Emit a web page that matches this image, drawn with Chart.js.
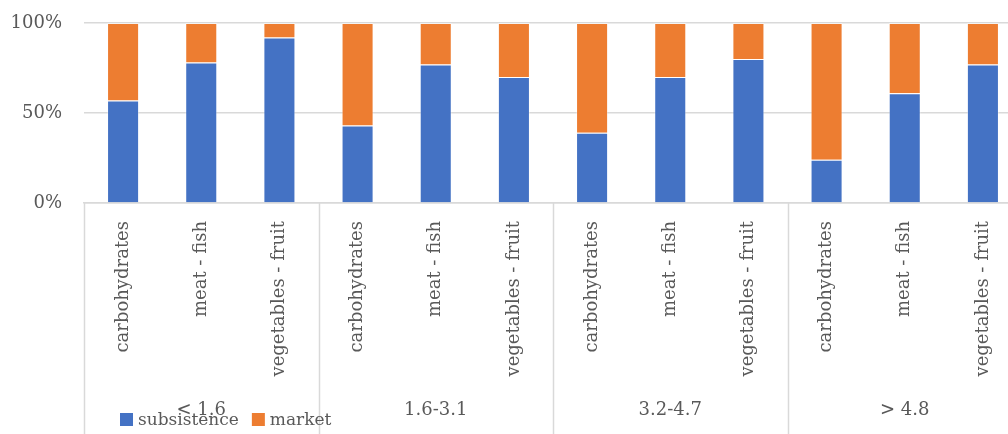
<!DOCTYPE html>
<html>
<head>
<meta charset="utf-8">
<script src="https://cdn.jsdelivr.net/npm/chart.js@4"></script>
<style>
  html, body { margin: 0; padding: 0; background: #fff; overflow: hidden; }
  #wrap { width: 1008px; height: 434px; overflow: hidden; position: relative; }
  #box { width: 1030px; height: 434px; position: absolute; left: 0; top: 0; }
</style>
</head>
<body>
<div id="wrap"><div id="box"><canvas id="c"></canvas></div></div>
<script>
const groups = ['< 1.6', '1.6-3.1', '3.2-4.7', '> 4.8'];
const foods = ['carbohydrates', 'meat - fish', 'vegetables - fruit'];
const subsistence = [57, 78, 92, 43, 77, 70, 39, 70, 80, 24, 61, 77];
const market = [43, 22, 8, 57, 23, 30, 61, 30, 20, 76, 39, 23];
const yTicks = [0, 50, 100];
const seriesNames = ['subsistence', 'market'];
const seriesColors = ['#4472C4', '#ED7D31'];

const categories = [];
groups.forEach(() => foods.forEach(f => categories.push(f)));

const FONT = '"DejaVu Serif", "Liberation Serif", serif';
const TEXT = '#595959';
const GRID = '#d9d9d9';

const extras = {
  id: 'extras',
  afterDraw(chart) {
    const ctx = chart.ctx;
    const x = chart.scales.x;
    const area = chart.chartArea;
    const H = chart.height;
    const step = x.getPixelForValue(1) - x.getPixelForValue(0);
    ctx.save();
    // group separators
    ctx.strokeStyle = GRID;
    ctx.lineWidth = 1.5;
    for (let g = 0; g <= groups.length; g++) {
      const idx = g * foods.length;
      const px = x.getPixelForValue(0) + (idx - 0.5) * step;
      ctx.beginPath();
      ctx.moveTo(Math.round(px) + 0.5, area.bottom);
      ctx.lineTo(Math.round(px) + 0.5, H);
      ctx.stroke();
    }
    // group labels
    ctx.fillStyle = TEXT;
    ctx.font = '18px ' + FONT;
    ctx.textAlign = 'center';
    ctx.textBaseline = 'middle';
    groups.forEach((g, i) => {
      const a = x.getPixelForValue(i * foods.length);
      const b = x.getPixelForValue(i * foods.length + foods.length - 1);
      ctx.fillText(g, (a + b) / 2, 410);
    });
    // legend
    let lx = 120;
    const ly = 420;
    ctx.textAlign = 'left';
    ctx.font = '17px ' + FONT;
    seriesNames.forEach((n, i) => {
      ctx.fillStyle = seriesColors[i];
      ctx.fillRect(lx, ly - 7, 13, 13);
      ctx.fillStyle = TEXT;
      ctx.fillText(n, lx + 18, ly + 1);
      lx += 18 + ctx.measureText(n).width + 13;
    });
    ctx.restore();
  }
};

new Chart(document.getElementById('c'), {
  type: 'bar',
  data: {
    labels: categories,
    datasets: [
      { label: seriesNames[0], data: subsistence, backgroundColor: seriesColors[0], borderColor: 'rgba(255,255,255,0.35)', borderWidth: 1, barPercentage: 0.41, categoryPercentage: 1 },
      { label: seriesNames[1], data: market, backgroundColor: seriesColors[1], borderColor: 'rgba(255,255,255,0.35)', borderWidth: 1, barPercentage: 0.41, categoryPercentage: 1 }
    ]
  },
  options: {
    responsive: true,
    maintainAspectRatio: false,
    animation: false,
    layout: { autoPadding: false, padding: { top: 23, right: 8, left: 0, bottom: 0 } },
    plugins: { legend: { display: false }, tooltip: { enabled: false } },
    scales: {
      x: {
        stacked: true,
        grid: { display: false },
        border: { display: true, color: GRID, width: 1.5 },
        ticks: { color: TEXT, font: { family: FONT, size: 18 }, minRotation: 90, maxRotation: 90, padding: 10, autoSkip: false },
        afterFit(s) { s.height = 231; s.paddingLeft = 0; s.paddingRight = 0; }
      },
      y: {
        stacked: true,
        min: 0, max: 100,
        afterBuildTicks(s) { s.ticks = yTicks.map(v => ({ value: v })); },
        grid: { color: GRID, lineWidth: 1.5, drawTicks: false },
        border: { display: false },
        ticks: { color: TEXT, font: { family: FONT, size: 18 }, padding: 22, callback: v => v + '%' },
        afterFit(s) { s.width = 84; s.paddingTop = 0; s.paddingBottom = 0; }
      }
    }
  },
  plugins: [extras]
});
</script>
</body>
</html>
